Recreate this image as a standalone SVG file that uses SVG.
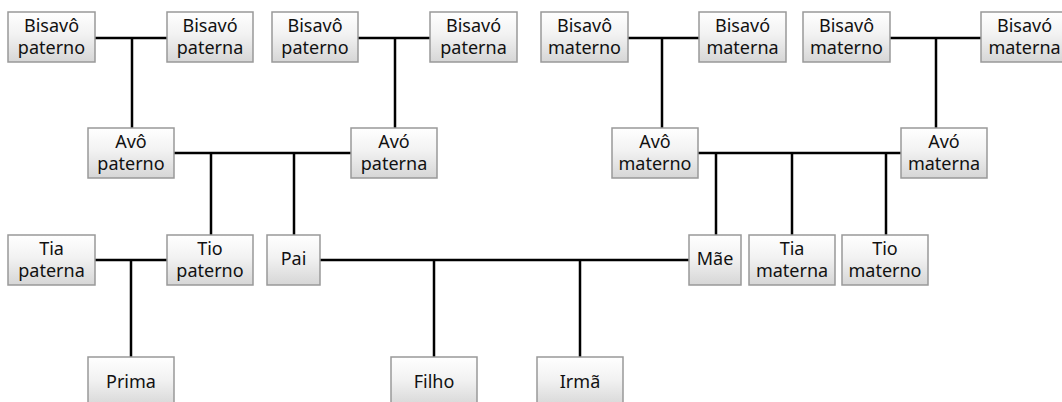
<svg xmlns="http://www.w3.org/2000/svg" width="1062" height="402" viewBox="0 0 1062 402">
<defs>
<linearGradient id="g" x1="0" y1="0" x2="0" y2="1">
<stop offset="0" stop-color="#ffffff"/>
<stop offset="0.45" stop-color="#f2f2f2"/>
<stop offset="1" stop-color="#d6d6d6"/>
</linearGradient>
</defs>
<style>
.b{fill:url(#g);stroke:#999;stroke-width:1.5}
.t{font-family:"Noto Sans","Liberation Sans",sans-serif;font-size:18px;fill:#111;text-anchor:middle}
.c{stroke:#000;stroke-width:2.5;fill:none}
</style>
<rect width="1062" height="402" fill="#fff"/>
<g id="connectors" class="c">
<path d="M95 38H167M132 38V128"/>
<path d="M358 38H430M395 38V128"/>
<path d="M628 38H699M662 38V128"/>
<path d="M890 38H981M936 38V128"/>
<path d="M174 153H351M211 153V235M294 153V235"/>
<path d="M698 153H901M716 153V235M792 153V235M886 153V235"/>
<path d="M95 260H167M131 260V357"/>
<path d="M320 260H689M434 260V357M580 260V357"/>
</g>
<g id="bisavo-paterno-1"><rect class="b" x="8" y="12" width="87" height="50"/><text class="t" x="51.5" y="32">Bisavô</text><text class="t" x="51.5" y="54">paterno</text></g>
<g id="bisavo-paterna-1"><rect class="b" x="167" y="12" width="86" height="50"/><text class="t" x="210" y="32">Bisavó</text><text class="t" x="210" y="54">paterna</text></g>
<g id="bisavo-paterno-2"><rect class="b" x="272" y="12" width="86" height="50"/><text class="t" x="315" y="32">Bisavô</text><text class="t" x="315" y="54">paterno</text></g>
<g id="bisavo-paterna-2"><rect class="b" x="430" y="12" width="87" height="50"/><text class="t" x="473.5" y="32">Bisavó</text><text class="t" x="473.5" y="54">paterna</text></g>
<g id="bisavo-materno-1"><rect class="b" x="541" y="12" width="87" height="50"/><text class="t" x="584.5" y="32">Bisavô</text><text class="t" x="584.5" y="54">materno</text></g>
<g id="bisavo-materna-1"><rect class="b" x="699" y="12" width="87" height="50"/><text class="t" x="742.5" y="32">Bisavó</text><text class="t" x="742.5" y="54">materna</text></g>
<g id="bisavo-materno-2"><rect class="b" x="803" y="12" width="87" height="50"/><text class="t" x="846.5" y="32">Bisavô</text><text class="t" x="846.5" y="54">materno</text></g>
<g id="bisavo-materna-2"><rect class="b" x="981" y="12" width="87" height="50"/><text class="t" x="1024.5" y="32">Bisavó</text><text class="t" x="1024.5" y="54">materna</text></g>
<g id="avo-paterno"><rect class="b" x="88" y="128" width="86" height="50"/><text class="t" x="131" y="148">Avô</text><text class="t" x="131" y="170">paterno</text></g>
<g id="avo-paterna"><rect class="b" x="351" y="128" width="86" height="50"/><text class="t" x="394" y="148">Avó</text><text class="t" x="394" y="170">paterna</text></g>
<g id="avo-materno"><rect class="b" x="612" y="128" width="86" height="50"/><text class="t" x="655" y="148">Avô</text><text class="t" x="655" y="170">materno</text></g>
<g id="avo-materna"><rect class="b" x="901" y="128" width="86" height="50"/><text class="t" x="944" y="148">Avó</text><text class="t" x="944" y="170">materna</text></g>
<g id="tia-paterna"><rect class="b" x="8" y="235" width="87" height="50"/><text class="t" x="51.5" y="255">Tia</text><text class="t" x="51.5" y="277">paterna</text></g>
<g id="tio-paterno"><rect class="b" x="167" y="235" width="86" height="50"/><text class="t" x="210" y="255">Tio</text><text class="t" x="210" y="277">paterno</text></g>
<g id="pai"><rect class="b" x="267" y="235" width="53" height="50"/><text class="t" x="293.5" y="265">Pai</text></g>
<g id="mae"><rect class="b" x="689" y="235" width="52" height="50"/><text class="t" x="715" y="265">Mãe</text></g>
<g id="tia-materna"><rect class="b" x="749" y="235" width="86" height="50"/><text class="t" x="792" y="255">Tia</text><text class="t" x="792" y="277">materna</text></g>
<g id="tio-materno"><rect class="b" x="842" y="235" width="86" height="50"/><text class="t" x="885" y="255">Tio</text><text class="t" x="885" y="277">materno</text></g>
<g id="prima"><rect class="b" x="88" y="357" width="86" height="50"/><text class="t" x="131" y="388">Prima</text></g>
<g id="filho"><rect class="b" x="391" y="357" width="86" height="50"/><text class="t" x="434" y="388">Filho</text></g>
<g id="irma"><rect class="b" x="537" y="357" width="86" height="50"/><text class="t" x="580" y="388">Irmã</text></g>
</svg>
